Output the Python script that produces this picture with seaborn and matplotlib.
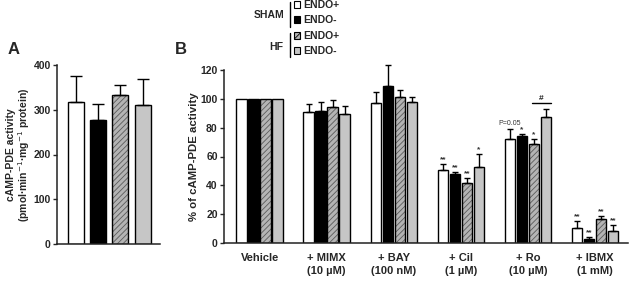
import numpy as np
import pandas as pd
import matplotlib
matplotlib.use('Agg')
import matplotlib.pyplot as plt
from matplotlib.patches import Patch
from matplotlib.lines import Line2D
from matplotlib.colors import to_rgba
import seaborn as sns

sns.set_style('ticks')
plt.rcParams['font.family'] = ['Liberation Sans', 'DejaVu Sans']
plt.rcParams['hatch.linewidth'] = 0.6

# ============================================================
# data
# ============================================================
CONDS = ['SHAM ENDO+', 'SHAM ENDO-', 'HF ENDO+', 'HF ENDO-']
COLORS = {'SHAM ENDO+': 'white', 'SHAM ENDO-': 'black',
          'HF ENDO+': '#b4b4b4', 'HF ENDO-': '#c6c6c6'}

# panel A: basal cAMP-PDE activity
a_mean = [317, 277, 333, 311]
a_sem = [58, 36, 22, 58]

# panel B: % of cAMP-PDE activity
groups = ['Vehicle', '+ MIMX\n(10 µM)', '+ BAY\n(100 nM)', '+ Cil\n(1 µM)',
          '+ Ro\n(10 µM)', '+ IBMX\n(1 mM)']
sham_pos = [100, 90.8, 97.0, 50.6, 72.1, 10.2]
sham_pos_sem = [0, 5.5, 7.4, 4.2, 6.9, 5.1]
sham_neg = [100, 91.7, 109.0, 47.6, 74.4, 2.6]
sham_neg_sem = [0, 6.2, 14.4, 1.9, 1.2, 1.8]
hf_pos = [100, 94.3, 101.4, 41.8, 68.5, 16.4]
hf_pos_sem = [0, 5.0, 4.8, 3.1, 3.5, 2.3]
hf_neg = [100, 89.7, 97.7, 52.5, 87.6, 8.5]
hf_neg_sem = [0, 5.0, 3.9, 9.2, 5.3, 4.0]

# significance marks
sham_pos_sig = ['', '', '', '**', 'P=0.05', '**']
sham_neg_sig = ['', '', '', '**', '*', '**']
hf_pos_sig = ['', '', '', '**', '*', '**']
hf_neg_sig = ['', '', '', '*', '', '**']

b_means = [sham_pos, sham_neg, hf_pos, hf_neg]
b_sems = [sham_pos_sem, sham_neg_sem, hf_pos_sem, hf_neg_sem]
b_sigs = [sham_pos_sig, sham_neg_sig, hf_pos_sig, hf_neg_sig]

df_a = pd.DataFrame({'cond': CONDS, 'value': a_mean})
df_b = pd.DataFrame({
    'group': groups * 4,
    'cond': [c for c in CONDS for _ in groups],
    'value': sum(b_means, []),
})

FS = 7.5

fig = plt.figure(figsize=(6.29, 2.81), dpi=100)
ax_a = fig.add_axes([57 / 629, 1 - 244 / 281, 103 / 629, 179 / 281])
ax_b = fig.add_axes([224 / 629, 1 - 243 / 281, 404 / 629, 173 / 281])


def style_axis(ax):
    sns.despine(ax=ax)
    for s in ['left', 'bottom']:
        ax.spines[s].set_linewidth(1.1)
        ax.spines[s].set_color('#222222')
    ax.tick_params(axis='y', length=3, width=1, pad=1.5, labelsize=FS)
    ax.tick_params(axis='x', length=0, pad=7, labelsize=8)
    for t in ax.get_yticklabels() + ax.get_xticklabels():
        t.set_fontweight('bold')


def hatch_bars(bars):
    for p in bars:
        p.set_hatch('//////')
        p._hatch_color = to_rgba('#5a5a5a')


# ---------------- panel A ----------------
sns.barplot(data=df_a, x='cond', y='value', hue='cond', order=CONDS,
            palette=COLORS, width=0.72, edgecolor='black', linewidth=1,
            errorbar=None, legend=False, ax=ax_a)
for bars, m, e in zip(ax_a.containers, a_mean, a_sem):
    for p in bars:
        x = p.get_x() + p.get_width() / 2
        ax_a.errorbar(x, m, yerr=[[0], [e]], fmt='none', ecolor='black',
                      elinewidth=1, capsize=4, capthick=1, zorder=1)
hatch_bars(ax_a.containers[2])
ax_a.set_ylim(0, 400)
ax_a.set_yticks([0, 100, 200, 300, 400])
ax_a.set_xlim(-0.86, 3.78)
ax_a.set_xticks([])
ax_a.set_xlabel('')
ax_a.set_ylabel('cAMP-PDE activity\n(pmol·min$^{-1}$·mg$^{-1}$ protein)',
                fontsize=7.5, fontweight='bold', labelpad=1, linespacing=1.05)
style_axis(ax_a)

# ---------------- panel B ----------------
sns.barplot(data=df_b, x='group', y='value', hue='cond', order=groups,
            hue_order=CONDS, palette=COLORS, width=0.715, gap=0.12,
            edgecolor='black', linewidth=1, errorbar=None, legend=False,
            ax=ax_b)
hatch_bars(ax_b.containers[2])
for bars, means, sems, sigs in zip(ax_b.containers, b_means, b_sems, b_sigs):
    for p, m, e, s in zip(bars, means, sems, sigs):
        x = p.get_x() + p.get_width() / 2
        if e > 0:
            ax_b.errorbar(x, m, yerr=[[0], [e]], fmt='none', ecolor='black',
                          elinewidth=1, capsize=2.5, capthick=1, zorder=1,
                          clip_on=False)
        if s.startswith('P'):
            ax_b.text(x, m + e + 1.5, s, ha='center', va='bottom', fontsize=5,
                      color='#333333')
        elif s:
            ax_b.text(x, m + e + 0.5, s, ha='center', va='bottom', fontsize=6,
                      fontweight='bold', color='#333333')

# HF ENDO+ vs HF ENDO- after Ro
p_hf_pos = ax_b.containers[2][4]
p_hf_neg = ax_b.containers[3][4]
x0 = p_hf_pos.get_x() + p_hf_pos.get_width() * 0.3
x1 = p_hf_neg.get_x() + p_hf_neg.get_width() * 1.0
ax_b.plot([x0, x1], [97, 97], color='black', lw=1)
ax_b.text((x0 + x1) / 2, 97.5, '#', ha='center', va='bottom', fontsize=6,
          fontweight='bold')

ax_b.set_ylim(0, 120)
ax_b.set_yticks([0, 20, 40, 60, 80, 100, 120])
ax_b.set_xlim(-0.53, 5.49)
ax_b.set_xlabel('')
ax_b.set_ylabel('% of cAMP-PDE activity', fontsize=8.2, fontweight='bold',
                labelpad=1)
style_axis(ax_b)
for t in ax_b.get_xticklabels():
    t.set_linespacing(1.45)

# ---------------- panel letters ----------------
fig.text(8 / 629, 1 - 49 / 281, 'A', fontsize=12, fontweight='bold',
         ha='left', va='center')
fig.text(175 / 629, 1 - 49 / 281, 'B', fontsize=12, fontweight='bold',
         ha='left', va='center')

# ---------------- legend ----------------
handles = [Patch(facecolor=COLORS[c], edgecolor='black', linewidth=0.8)
           for c in CONDS]
handles[2].set_hatch('//////')
prop = {'size': FS, 'weight': 'bold'}
kw = dict(loc='upper left', frameon=False, prop=prop, handlelength=0.6,
          handleheight=0.6, handletextpad=0.3, labelspacing=0.5,
          borderpad=0, borderaxespad=0)
leg1 = fig.legend(handles[:2], ['ENDO+', 'ENDO-'],
                  bbox_to_anchor=(294 / 629, 1 - 0 / 281), **kw)
leg2 = fig.legend(handles[2:], ['ENDO+', 'ENDO-'],
                  bbox_to_anchor=(294 / 629, 1 - 31 / 281), **kw)
fig.text(284 / 629, 1 - 15 / 281, 'SHAM', ha='right', va='center',
         fontsize=FS, fontweight='bold')
fig.text(283 / 629, 1 - 47 / 281, 'HF', ha='right', va='center',
         fontsize=FS, fontweight='bold')
fig.add_artist(Line2D([290 / 629] * 2, [1 - 2 / 281, 1 - 27 / 281],
                      transform=fig.transFigure, color='black', lw=1))
fig.add_artist(Line2D([290 / 629] * 2, [1 - 33 / 281, 1 - 57 / 281],
                      transform=fig.transFigure, color='black', lw=1))

fig.savefig('out.png', dpi=100)
